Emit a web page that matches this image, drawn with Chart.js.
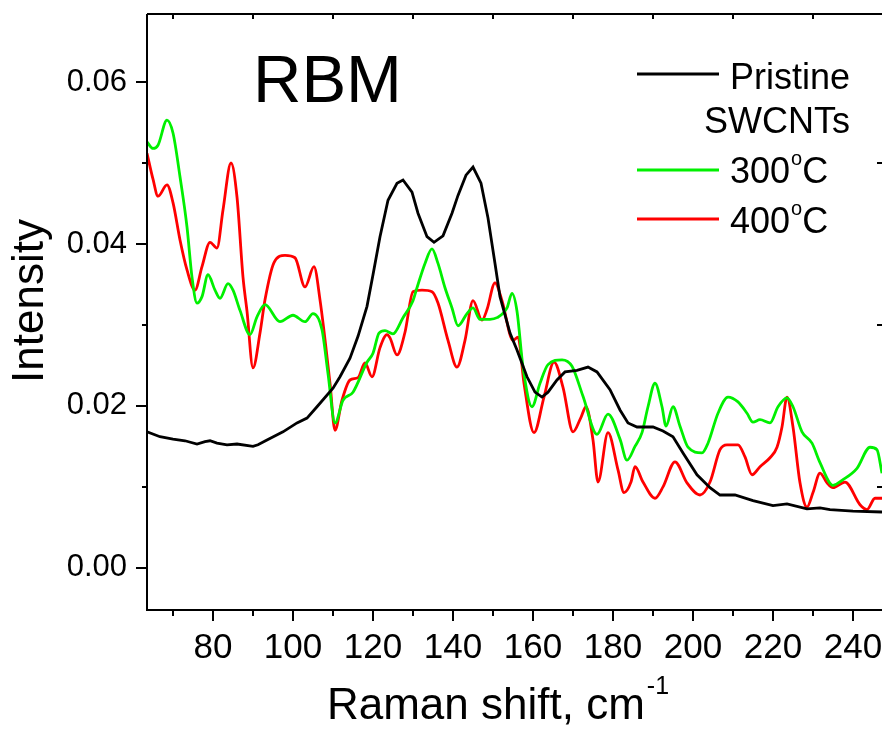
<!DOCTYPE html>
<html>
<head>
<meta charset="utf-8">
<title>RBM Raman spectra</title>
<script src="https://cdn.jsdelivr.net/npm/chart.js@4.4.0/dist/chart.umd.min.js"></script>
<style>
  html, body { margin: 0; padding: 0; background: #fff; }
  #wrap { width: 882px; height: 732px; }
</style>
</head>
<body>
<div id="wrap"><canvas id="ramanChart" width="882" height="732"></canvas></div>
<script>
// values
const pristineShift = [63.5, 66.75, 70, 73, 76, 78, 79.25, 81, 83.5, 86, 90, 91.25, 93.5, 97.5, 101, 103.5, 106, 110, 111.75, 114.25, 116.25, 118.5, 120, 121.75, 123.75, 126, 127.5, 129.75, 131.25, 133.5, 135.25, 137.5, 139.75, 141.25, 143.25, 145, 147, 148.75, 150.5, 151.75, 154.25, 156, 158.5, 160.5, 162.25, 163.75, 166, 168, 171, 173.75, 176, 179.25, 181.75, 183.75, 186, 190, 192.5, 195, 197.5, 201, 204.25, 206.75, 210.5, 215, 220, 223.5, 228.5, 231.75, 234.25, 240, 247.25];
const pristineIntensity = [0.0168, 0.0162, 0.0159, 0.0157, 0.0153, 0.0156, 0.0157, 0.0154, 0.0152, 0.0153, 0.0150, 0.0152, 0.0158, 0.0168, 0.0179, 0.0185, 0.0199, 0.0222, 0.0236, 0.0259, 0.0286, 0.0323, 0.0362, 0.0409, 0.0454, 0.0475, 0.0479, 0.0464, 0.0438, 0.0409, 0.0402, 0.0410, 0.0438, 0.0460, 0.0485, 0.0495, 0.0475, 0.0432, 0.0376, 0.0335, 0.0290, 0.0269, 0.0236, 0.0217, 0.0211, 0.0217, 0.0232, 0.0242, 0.0244, 0.0248, 0.0242, 0.0220, 0.0195, 0.0179, 0.0174, 0.0174, 0.0169, 0.0162, 0.0142, 0.0115, 0.0099, 0.0090, 0.0090, 0.0083, 0.0077, 0.0079, 0.0073, 0.0074, 0.0072, 0.0070, 0.0069];

const shift300 = [63.5, 65, 66.25, 68.5, 70, 71.75, 73.5, 74.75, 76, 77.25, 78.75, 80.5, 81.75, 83.75, 85, 86.75, 89.25, 91, 93, 96.75, 100, 103, 105, 107.25, 108.75, 110.5, 112.5, 115, 118.5, 120, 121.5, 123, 125, 127.5, 130, 131, 133, 134.75, 136.25, 138, 139.75, 141.25, 143.5, 145, 146.75, 149.25, 151, 153.5, 154.75, 156, 157.5, 159.75, 161.75, 163.75, 167.25, 169.75, 172.5, 176, 178.75, 181.75, 183.5, 185.5, 187.25, 188.75, 190.5, 192.25, 193.25, 195, 196.75, 198.75, 202.25, 203.75, 206.25, 208.75, 211.25, 213.5, 215, 216.75, 219.25, 221.25, 223.5, 225, 227.25, 229.75, 231.75, 235, 237.5, 241, 244.25, 246, 247.25];
const intensity300 = [0.0526, 0.0518, 0.0522, 0.0553, 0.0537, 0.0483, 0.0421, 0.0359, 0.0327, 0.0335, 0.0362, 0.0343, 0.0333, 0.0351, 0.0343, 0.0318, 0.0288, 0.0310, 0.0325, 0.0304, 0.0312, 0.0304, 0.0314, 0.0294, 0.0240, 0.0179, 0.0207, 0.0217, 0.0254, 0.0265, 0.0290, 0.0293, 0.0289, 0.0309, 0.0330, 0.0346, 0.0376, 0.0394, 0.0376, 0.0346, 0.0321, 0.0299, 0.0314, 0.0321, 0.0307, 0.0307, 0.0309, 0.0321, 0.0339, 0.0317, 0.0248, 0.0199, 0.0228, 0.0251, 0.0257, 0.0249, 0.0212, 0.0165, 0.0190, 0.0159, 0.0133, 0.0150, 0.0167, 0.0199, 0.0228, 0.0199, 0.0175, 0.0199, 0.0175, 0.0149, 0.0142, 0.0154, 0.0191, 0.0211, 0.0205, 0.0191, 0.0180, 0.0183, 0.0179, 0.0199, 0.0210, 0.0199, 0.0168, 0.0154, 0.0130, 0.0102, 0.0109, 0.0123, 0.0149, 0.0146, 0.0117];

const shift400 = [63.5, 65, 66.25, 68.5, 70, 71.75, 73.5, 75.5, 77.25, 79.25, 81, 82.5, 84.5, 86, 87.5, 88.5, 90, 91.75, 93, 95.25, 98, 100.5, 103, 105.25, 106.75, 109.25, 110.5, 112.25, 114.25, 116.25, 118, 119.75, 121.75, 123.5, 124.25, 126, 128, 130, 132.25, 134.75, 136.25, 138.75, 141, 143, 145, 147.25, 148.5, 150.5, 152.25, 155, 156.25, 157.75, 160.25, 162.75, 165.25, 167.5, 170, 172, 173.25, 175, 176.25, 178.75, 181.25, 182.75, 184.5, 185.5, 187.5, 190.5, 192.5, 195.5, 198.5, 201.75, 204.25, 206.75, 208.5, 211.25, 213, 214.75, 216.75, 219.25, 221, 222.25, 223.5, 225, 226.75, 228.5, 230, 231.75, 233.5, 235, 238, 241.75, 243.5, 245.5, 247.25];
const intensity400 = [0.0512, 0.0480, 0.0459, 0.0473, 0.0451, 0.0405, 0.0368, 0.0343, 0.0372, 0.0402, 0.0395, 0.0442, 0.0500, 0.0458, 0.0359, 0.0317, 0.0247, 0.0290, 0.0331, 0.0377, 0.0386, 0.0383, 0.0347, 0.0372, 0.0331, 0.0228, 0.0170, 0.0207, 0.0232, 0.0235, 0.0253, 0.0236, 0.0272, 0.0288, 0.0284, 0.0263, 0.0291, 0.0341, 0.0343, 0.0341, 0.0327, 0.0281, 0.0248, 0.0281, 0.0330, 0.0306, 0.0319, 0.0352, 0.0330, 0.0281, 0.0285, 0.0228, 0.0167, 0.0211, 0.0254, 0.0223, 0.0168, 0.0186, 0.0199, 0.0158, 0.0106, 0.0167, 0.0121, 0.0093, 0.0106, 0.0125, 0.0106, 0.0086, 0.0100, 0.0131, 0.0105, 0.0090, 0.0106, 0.0146, 0.0152, 0.0152, 0.0137, 0.0115, 0.0125, 0.0136, 0.0149, 0.0174, 0.0211, 0.0174, 0.0105, 0.0075, 0.0093, 0.0117, 0.0105, 0.0099, 0.0106, 0.0078, 0.0072, 0.0086, 0.0086];

const xMajorTicks = [80, 100, 120, 140, 160, 180, 200, 220, 240];
const xMinorTicks = [70, 90, 110, 130, 150, 170, 190, 210, 230];
const yMajorTicks = [0, 0.02, 0.04, 0.06];
const yMinorTicks = [0.01, 0.03, 0.05];

const FONT = '"Liberation Sans", Arial, Helvetica, sans-serif';

function toPoints(xs, ys) {
  return xs.map((x, i) => ({ x: x, y: ys[i] }));
}

// no automatic padding for edge labels, the frame is fixed
function fixPadding(scale) {
  scale.paddingTop = 0;
  scale.paddingBottom = 0;
  scale.paddingLeft = 0;
  scale.paddingRight = 0;
}

// frame, ticks, titles, legend and the RBM label
const decorPlugin = {
  id: 'decor',
  afterDraw(chart) {
    const ctx = chart.ctx;
    const area = chart.chartArea;
    const xs = chart.scales.x;
    const ys = chart.scales.y;
    ctx.save();
    ctx.strokeStyle = '#000';
    ctx.fillStyle = '#000';
    ctx.lineWidth = 2;

    // frame: left, bottom, top
    ctx.beginPath();
    ctx.moveTo(area.left, area.top);
    ctx.lineTo(area.left, area.bottom);
    ctx.lineTo(area.right + 2, area.bottom);
    ctx.moveTo(area.left, area.top);
    ctx.lineTo(area.right + 2, area.top);
    ctx.stroke();

    ctx.beginPath();
    xMajorTicks.forEach(v => {
      const px = Math.round(xs.getPixelForValue(v));
      ctx.moveTo(px, area.bottom);
      ctx.lineTo(px, area.bottom + 11);
    });
    xMinorTicks.forEach(v => {
      const px = Math.round(xs.getPixelForValue(v));
      ctx.moveTo(px, area.bottom);
      ctx.lineTo(px, area.bottom + 6);
      // top axis ticks point inward
      ctx.moveTo(px, area.top);
      ctx.lineTo(px, area.top + 5);
    });
    yMajorTicks.forEach(v => {
      const py = Math.round(ys.getPixelForValue(v));
      ctx.moveTo(area.left, py);
      ctx.lineTo(area.left - 11, py);
    });
    yMinorTicks.forEach(v => {
      const py = Math.round(ys.getPixelForValue(v));
      ctx.moveTo(area.left, py);
      ctx.lineTo(area.left - 5, py);
      ctx.moveTo(area.right, py);
      ctx.lineTo(area.right - 5, py);
    });
    ctx.stroke();

    // x title with superscript
    ctx.textBaseline = 'alphabetic';
    ctx.textAlign = 'left';
    ctx.font = '44px ' + FONT;
    const main = 'Raman shift, cm';
    const mainW = ctx.measureText(main).width;
    ctx.font = '25px ' + FONT;
    const supW = ctx.measureText('-1').width;
    const startX = 498 - (mainW + supW + 2) / 2;
    ctx.font = '44px ' + FONT;
    ctx.fillText(main, startX, 719);
    ctx.font = '25px ' + FONT;
    ctx.fillText('-1', startX + mainW + 2, 694);

    // y title
    ctx.save();
    ctx.translate(43, 301);
    ctx.rotate(-Math.PI / 2);
    ctx.textAlign = 'center';
    ctx.font = '44px ' + FONT;
    ctx.fillText('Intensity', 0, 0);
    ctx.restore();

    // RBM label
    ctx.font = '67px ' + FONT;
    ctx.textAlign = 'left';
    ctx.fillText('RBM', 253, 102);

    // legend
    const legendItems = [
      { color: '#000000', lineY: 74 },
      { color: '#00f000', lineY: 170 },
      { color: '#ff0000', lineY: 219 }
    ];
    ctx.lineWidth = 2.8;
    legendItems.forEach(item => {
      ctx.strokeStyle = item.color;
      ctx.beginPath();
      ctx.moveTo(637, item.lineY);
      ctx.lineTo(719, item.lineY);
      ctx.stroke();
    });
    ctx.font = '36px ' + FONT;
    ctx.fillText('Pristine', 730, 89);
    ctx.textAlign = 'right';
    ctx.fillText('SWCNTs', 850, 133);
    ctx.textAlign = 'left';
    [['300', 183], ['400', 233]].forEach(([num, base]) => {
      ctx.font = '36px ' + FONT;
      ctx.fillText(num, 730, base);
      let w = ctx.measureText(num).width;
      ctx.font = '20px ' + FONT;
      ctx.fillText('o', 730 + w + 1, base - 18);
      const ow = ctx.measureText('o').width;
      ctx.font = '36px ' + FONT;
      ctx.fillText('C', 730 + w + ow + 1, base);
    });
    ctx.restore();
  }
};

new Chart(document.getElementById('ramanChart'), {
  type: 'line',
  data: {
    datasets: [
      {
        label: 'Pristine SWCNTs',
        data: toPoints(pristineShift, pristineIntensity),
        borderColor: '#000000',
        borderWidth: 2.8,
        tension: 0,
        pointRadius: 0
      },
      {
        label: '300°C',
        data: toPoints(shift300, intensity300),
        borderColor: '#00f000',
        borderWidth: 2.8,
        cubicInterpolationMode: 'monotone',
        pointRadius: 0
      },
      {
        label: '400°C',
        data: toPoints(shift400, intensity400),
        borderColor: '#ff0000',
        borderWidth: 2.8,
        cubicInterpolationMode: 'monotone',
        pointRadius: 0
      }
    ]
  },
  options: {
    responsive: false,
    animation: false,
    layout: { padding: { top: 14, right: 0, left: 0, bottom: 0 } },
    plugins: {
      legend: { display: false },
      tooltip: { enabled: false }
    },
    scales: {
      x: {
        type: 'linear',
        min: 63.5,
        max: 247.25,
        afterFit: scale => { scale.height = 122; fixPadding(scale); },
        afterBuildTicks: scale => { scale.ticks = xMajorTicks.map(v => ({ value: v })); },
        grid: { display: false, drawTicks: false },
        border: { display: false },
        ticks: {
          color: '#000',
          padding: 17,
          maxRotation: 0,
          autoSkip: false,
          font: { family: FONT, size: 35 }
        }
      },
      y: {
        type: 'linear',
        min: -0.0052,
        max: 0.0684,
        afterFit: scale => { scale.width = 147; fixPadding(scale); },
        afterBuildTicks: scale => { scale.ticks = yMajorTicks.map(v => ({ value: v })); },
        grid: { display: false, drawTicks: false },
        border: { display: false },
        ticks: {
          color: '#000',
          padding: 20,
          font: { family: FONT, size: 31 },
          callback: v => v.toFixed(2)
        }
      }
    }
  },
  plugins: [decorPlugin]
});
</script>
</body>
</html>
